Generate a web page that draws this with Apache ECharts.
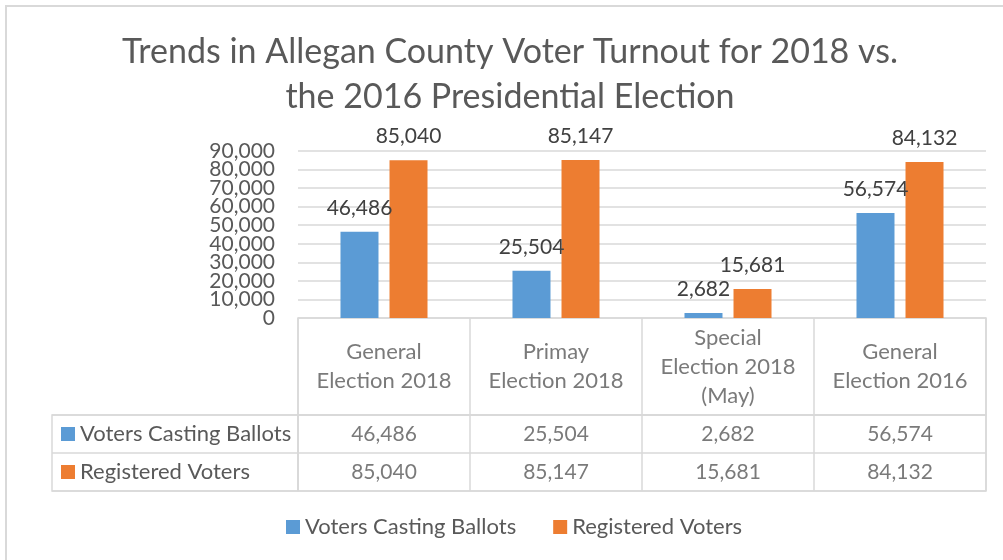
<!DOCTYPE html>
<html>
<head>
<meta charset="utf-8">
<script src="https://cdn.jsdelivr.net/npm/echarts@6/dist/echarts.min.js"></script>
<style>html,body{margin:0;padding:0;background:#fff;}#chart{width:1003px;height:560px;}</style>
</head>
<body>
<div id="chart"></div>
<script>
const titleText = 'Trends in Allegan County Voter Turnout for 2018 vs.\nthe 2016 Presidential Election';
const categories = ['General\nElection 2018', 'Primay\nElection 2018', 'Special\nElection 2018\n(May)', 'General\nElection 2016'];
const seriesNames = ['Voters Casting Ballots', 'Registered Voters'];
const votersCasting = [46486, 25504, 2682, 56574];
const registeredVoters = [85040, 85147, 15681, 84132];
const yMin = 0, yMax = 90000, yInterval = 10000;

const seriesValues = [votersCasting, registeredVoters];
const colors = ['#5B9BD5', '#ED7D31'];
const FONT = 'Lato';
const TXT = '#595959';
const LINE = '#D9D9D9';
const fmt = v => Number(v).toLocaleString('en-US');
const isEvenTick = v => Math.round((v - yMin) / yInterval) % 2 === 0;

const chart = echarts.init(document.getElementById('chart'));
const gridBox = {show: true, borderColor: LINE, borderWidth: 1.5, backgroundColor: 'transparent'};
const hiddenCat = (gi, data) => ({type: 'category', gridIndex: gi, data: data,
  axisLine: {show: false}, axisTick: {show: false}, axisLabel: {show: false},
  splitLine: {show: true, interval: 0, lineStyle: {color: LINE, width: 1.5}}});
const valueAxisLabels = (even) => ({
  type: 'value', gridIndex: 0, position: 'left', offset: 0, min: yMin, max: yMax, interval: yInterval,
  axisLine: {show: false}, axisTick: {show: false},
  axisLabel: {formatter: v => (isEvenTick(v) === even ? fmt(v) : ''), margin: 23,
    fontFamily: FONT, fontSize: 21, color: TXT, showMinLabel: true, showMaxLabel: true},
  splitLine: {show: even, lineStyle: {color: LINE, width: 1.5}}
});

const tableCells = [];
seriesValues.forEach((arr, si) => arr.forEach((v, ci) => tableCells.push([ci, si, v])));

chart.setOption({
  animation: false,
  textStyle: {fontFamily: FONT},
  color: colors,
  title: {
    text: titleText, left: 510, textAlign: 'center', top: 30, padding: 0,
    textStyle: {fontFamily: FONT, fontSize: 34, fontWeight: 'normal', color: TXT, lineHeight: 45}
  },
  legend: {
    data: seriesNames, left: 286, top: 516, padding: 0, itemWidth: 14, itemHeight: 14, icon: 'rect', itemGap: 37,
    textStyle: {fontFamily: FONT, fontSize: 22, color: TXT}, selectedMode: false
  },
  graphic: [{type: 'rect', shape: {x: 6, y: 6, width: 1200, height: 800}, style: {fill: 'none', stroke: LINE, lineWidth: 2}, silent: true, z: -1}],
  grid: [
    {left: 298, width: 688, top: 151, height: 167},
    Object.assign({left: 298, width: 688, top: 318, height: 97}, gridBox),
    Object.assign({left: 298, width: 688, top: 415, height: 76}, gridBox),
    Object.assign({left: 52, width: 246, top: 415, height: 76}, gridBox)
  ],
  xAxis: [
    {type: 'category', gridIndex: 0, data: categories, axisLine: {show: false}, axisTick: {show: false}, axisLabel: {show: false}},
    hiddenCat(1, categories),
    hiddenCat(2, categories),
    {type: 'value', gridIndex: 3, min: 0, max: 1, show: false}
  ],
  yAxis: [
    valueAxisLabels(true),
    {type: 'value', gridIndex: 1, min: 0, max: 1, show: false},
    Object.assign(hiddenCat(2, seriesNames), {inverse: true}),
    Object.assign(hiddenCat(3, seriesNames), {inverse: true,
      axisLabel: {show: true, inside: true, margin: 9, align: 'left',
        formatter: (v, i) => '{k' + i + '|}{t|' + v + '}',
        rich: {
          k0: {width: 14, height: 14, backgroundColor: colors[0]},
          k1: {width: 14, height: 14, backgroundColor: colors[1]},
          t: {fontFamily: FONT, fontSize: 22, color: TXT, padding: [0, 0, 0, 5]}
        }}}),
    valueAxisLabels(false)
  ],
  series: [
    ...seriesNames.map((name, si) => ({
      name: name, type: 'bar', xAxisIndex: 0, yAxisIndex: 0, data: seriesValues[si],
      barWidth: 38, barGap: '29%',
      itemStyle: {color: colors[si]},
      label: {show: true, position: 'top', distance: 13, formatter: p => fmt(p.value),
        fontFamily: FONT, fontSize: 21, color: '#404040'}
    })),
    {type: 'scatter', xAxisIndex: 1, yAxisIndex: 1, silent: true, symbolSize: 1, itemStyle: {color: 'rgba(0,0,0,0)'},
      data: categories.map((c, i) => [i, 0.5]),
      label: {show: true, position: 'inside', formatter: p => categories[p.dataIndex],
        fontFamily: FONT, fontSize: 22, lineHeight: 29, color: TXT, align: 'center', verticalAlign: 'middle'}},
    {type: 'scatter', xAxisIndex: 2, yAxisIndex: 2, silent: true, symbolSize: 1, itemStyle: {color: 'rgba(0,0,0,0)'},
      data: tableCells,
      label: {show: true, position: 'inside', formatter: p => fmt(p.value[2]),
        fontFamily: FONT, fontSize: 21, color: TXT, align: 'center', verticalAlign: 'middle'}}
  ]
});
</script>
</body>
</html>
